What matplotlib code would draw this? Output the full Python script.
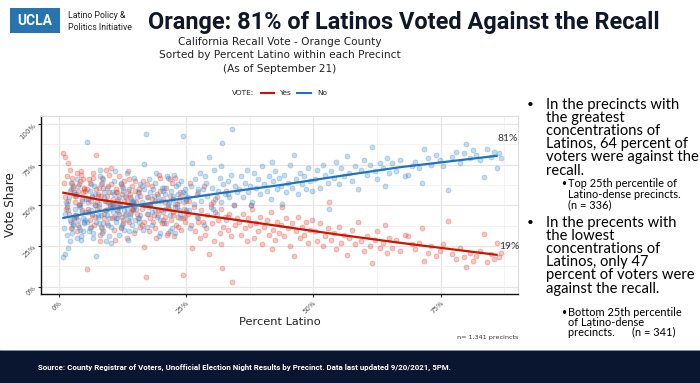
import matplotlib
matplotlib.use("Agg")
from matplotlib import pyplot as plt
from matplotlib import font_manager
from matplotlib.patches import Rectangle
from matplotlib.ticker import MultipleLocator, FuncFormatter

# percent Latino in precinct, and "No" share (Yes share = 1 - No)
pct_latino = [
    0.008, 0.012, 0.019, 0.010, 0.015, 0.022, 0.025, 0.018, 0.030, 0.028, 0.033, 0.035, 0.040, 0.038, 0.042, 0.045, 0.048, 0.020, 0.027, 0.031,
    0.036, 0.044, 0.049, 0.013, 0.024, 0.039, 0.046, 0.017, 0.029, 0.034, 0.041, 0.047, 0.023, 0.037, 0.043, 0.016, 0.026, 0.032, 0.050, 0.021,
    0.052, 0.055, 0.058, 0.061, 0.063, 0.066, 0.068, 0.071, 0.073, 0.075, 0.078, 0.080, 0.083, 0.085, 0.088, 0.090, 0.093, 0.095, 0.098, 0.100,
    0.102, 0.105, 0.107, 0.110, 0.112, 0.115, 0.118, 0.120, 0.123, 0.125, 0.128, 0.130, 0.133, 0.135, 0.138, 0.140, 0.143, 0.145, 0.148, 0.150,
    0.054, 0.059, 0.064, 0.069, 0.074, 0.079, 0.084, 0.089, 0.094, 0.099, 0.104, 0.109, 0.114, 0.119, 0.124, 0.129, 0.134, 0.139, 0.144, 0.149,
    0.057, 0.062, 0.067, 0.072, 0.077, 0.082, 0.087, 0.092, 0.097, 0.103, 0.108, 0.113, 0.117, 0.122, 0.127, 0.132, 0.137, 0.142, 0.147, 0.056,
    0.065, 0.076, 0.086, 0.096, 0.106, 0.116, 0.126, 0.136, 0.146, 0.081,
    0.152, 0.155, 0.158, 0.160, 0.163, 0.165, 0.168, 0.171, 0.173, 0.175, 0.178, 0.180, 0.183, 0.185, 0.188, 0.190, 0.193, 0.195, 0.198, 0.200,
    0.203, 0.205, 0.208, 0.210, 0.213, 0.215, 0.218, 0.220, 0.223, 0.225, 0.228, 0.230, 0.233, 0.235, 0.238, 0.240, 0.243, 0.245, 0.248, 0.250,
    0.154, 0.159, 0.164, 0.169, 0.174, 0.179, 0.184, 0.189, 0.194, 0.199, 0.204, 0.209, 0.214, 0.219, 0.224, 0.229, 0.234, 0.239, 0.244, 0.249,
    0.157, 0.167, 0.177, 0.187, 0.197, 0.207, 0.217, 0.227, 0.237, 0.247,
    0.253, 0.256, 0.259, 0.262, 0.265, 0.268, 0.271, 0.274, 0.277, 0.280, 0.283, 0.286, 0.289, 0.292, 0.295, 0.298, 0.301, 0.304, 0.307, 0.310,
    0.313, 0.316, 0.319, 0.320, 0.323, 0.326, 0.329, 0.332, 0.335, 0.338, 0.341, 0.344, 0.347, 0.350, 0.258, 0.273, 0.288, 0.303, 0.318, 0.333,
    0.353, 0.357, 0.361, 0.365, 0.369, 0.372, 0.376, 0.380, 0.384, 0.388, 0.392, 0.396, 0.400, 0.404, 0.408, 0.412, 0.416, 0.420, 0.424, 0.428,
    0.432, 0.436, 0.438, 0.442, 0.446, 0.450, 0.454, 0.458, 0.462, 0.466, 0.470, 0.474, 0.478, 0.482, 0.486, 0.490, 0.494, 0.498, 0.378, 0.418,
    0.503, 0.508, 0.513, 0.518, 0.523, 0.528, 0.530, 0.535, 0.540, 0.545, 0.550, 0.555, 0.560, 0.566, 0.571, 0.576, 0.582, 0.588, 0.594, 0.600,
    0.606, 0.611, 0.616, 0.621, 0.626, 0.631, 0.636, 0.641, 0.645, 0.649,
    0.655, 0.662, 0.670, 0.680, 0.685, 0.693, 0.700, 0.707, 0.713, 0.718, 0.725, 0.732, 0.740, 0.748, 0.755, 0.765, 0.772, 0.780, 0.788, 0.795,
    0.800, 0.807, 0.813, 0.820, 0.827, 0.836, 0.842, 0.848, 0.855, 0.860, 0.864, 0.868,
]
no_share = [
    0.18, 0.20, 0.24, 0.36, 0.52, 0.41, 0.33, 0.47, 0.58, 0.39, 0.44, 0.30, 0.50, 0.62, 0.35, 0.46, 0.42, 0.55, 0.38, 0.48,
    0.66, 0.29, 0.40, 0.45, 0.60, 0.37, 0.53, 0.32, 0.43, 0.57, 0.49, 0.34, 0.64, 0.41, 0.31, 0.51, 0.36, 0.44, 0.39, 0.28,
    0.41, 0.89, 0.52, 0.36, 0.63, 0.45, 0.30, 0.57, 0.19, 0.48, 0.39, 0.68, 0.44, 0.33, 0.55, 0.47, 0.28, 0.61, 0.42, 0.50,
    0.37, 0.58, 0.46, 0.71, 0.40, 0.53, 0.32, 0.49, 0.64, 0.43, 0.35, 0.56, 0.48, 0.29, 0.60, 0.45, 0.38, 0.52, 0.67, 0.41,
    0.54, 0.34, 0.47, 0.62, 0.40, 0.51, 0.36, 0.58, 0.44, 0.31, 0.49, 0.65, 0.42, 0.55, 0.38, 0.47, 0.70, 0.43, 0.52, 0.35,
    0.46, 0.59, 0.33, 0.50, 0.44, 0.63, 0.39, 0.53, 0.48, 0.27, 0.57, 0.42, 0.51, 0.37, 0.61, 0.45, 0.34, 0.54, 0.49, 0.40,
    0.56, 0.43, 0.66, 0.38, 0.50, 0.46, 0.59, 0.41, 0.53, 0.72,
    0.48, 0.58, 0.40, 0.63, 0.52, 0.35, 0.755, 0.94, 0.55, 0.45, 0.66, 0.50, 0.38, 0.60, 0.47, 0.70, 0.43, 0.56, 0.33, 0.53,
    0.61, 0.46, 0.57, 0.39, 0.68, 0.51, 0.44, 0.59, 0.36, 0.54, 0.33, 0.62, 0.49, 0.57, 0.42, 0.65, 0.926, 0.52, 0.60, 0.47,
    0.55, 0.44, 0.62, 0.50, 0.37, 0.58, 0.46, 0.64, 0.53, 0.41, 0.59, 0.48, 0.67, 0.34, 0.56, 0.51, 0.63, 0.45, 0.58, 0.54,
    0.42, 0.60, 0.49, 0.56, 0.31, 0.61, 0.52, 0.69, 0.47, 0.57,
    0.55, 0.47, 0.62, 0.763, 0.51, 0.66, 0.43, 0.58, 0.70, 0.53, 0.60, 0.38, 0.64, 0.56, 0.80, 0.49, 0.61, 0.72, 0.54, 0.45,
    0.59, 0.67, 0.52, 0.885, 0.63, 0.57, 0.41, 0.65, 0.55, 0.69, 0.97, 0.50, 0.62, 0.58, 0.36, 0.60, 0.68, 0.48, 0.74, 0.57,
    0.60, 0.68, 0.55, 0.64, 0.72, 0.58, 0.62, 0.52, 0.70, 0.61, 0.66, 0.57, 0.74, 0.63, 0.59, 0.68, 0.54, 0.65, 0.71, 0.60,
    0.67, 0.62, 0.51, 0.69, 0.58, 0.64, 0.75, 0.61, 0.81, 0.66, 0.57, 0.70, 0.63, 0.68, 0.60, 0.73, 0.65, 0.59, 0.50, 0.77,
    0.66, 0.72, 0.61, 0.75, 0.69, 0.64, 0.48, 0.71, 0.67, 0.77, 0.63, 0.73, 0.68, 0.805, 0.70, 0.65, 0.74, 0.60, 0.72, 0.78,
    0.69, 0.75, 0.857, 0.71, 0.66, 0.76, 0.73, 0.62, 0.79, 0.70,
    0.76, 0.71, 0.78, 0.68, 0.69, 0.74, 0.77, 0.73, 0.636, 0.845, 0.79, 0.75, 0.81, 0.78, 0.74, 0.595, 0.80, 0.83, 0.76, 0.82,
    0.877, 0.79, 0.84, 0.81, 0.78, 0.677, 0.85, 0.80, 0.83, 0.732, 0.82, 0.79,
]
yes_share = [1 - v for v in no_share]

# smoothed trend lines
trend_x = [0.009, 0.08, 0.15, 0.25, 0.35, 0.435, 0.55, 0.67, 0.86]
trend_yes = [0.578, 0.535, 0.503, 0.455, 0.41, 0.372, 0.32, 0.27, 0.196]
trend_no = [0.423, 0.465, 0.50, 0.545, 0.59, 0.625, 0.68, 0.735, 0.805]

title = "Orange: 81% of Latinos Voted Against the Recall"
subtitle = ["California Recall Vote - Orange County",
            "Sorted by Percent Latino within each Precinct",
            "(As of September 21)"]
bullet1 = ["In the precincts with", "the greatest", "concentrations of",
           "Latinos, 64 percent of", "voters were against the", "recall."]
sub1 = ["Top 25th percentile of", "Latino-dense precincts.", "(n = 336)"]
bullet2 = ["In the precents with", "the lowest", "concentrations of",
           "Latinos, only 47", "percent of voters were", "against the recall."]
sub2 = ["Bottom 25th percentile", "of Latino-dense", "precincts.      (n = 341)"]
source = "Source: County Registrar of Voters, Unofficial Election Night Results by Precinct. Data last updated 9/20/2021, 5PM."

RED_PT, RED_LN = "#e0402f", "#cc1500"
BLUE_PT, BLUE_LN = "#3d86c6", "#1f74c0"

names = {f.name for f in font_manager.fontManager.ttflist}
NARROW = "Liberation Sans Narrow" if "Liberation Sans Narrow" in names else "Roboto"
BODY = "Lato"

W, H = 700, 383
fig = plt.figure(figsize=(W / 100, H / 100), dpi=100)
fig.patch.set_facecolor("white")


def fx(x):
    return x / W


def fy(y):
    return 1 - y / H


renderer = fig.canvas.get_renderer()


def fit(t, width_px):
    # scale font so the text spans the given width
    bb = t.get_window_extent(renderer=renderer)
    t.set_fontsize(t.get_fontsize() * width_px / bb.width)
    return t.get_fontsize()


# header
fig.patches.append(Rectangle((fx(10), fy(33)), 50 / W, 25 / H, transform=fig.transFigure,
                             facecolor="#2774ae", edgecolor="none"))
fig.text(fx(35), fy(21), "UCLA", color="white", fontsize=10, fontweight="bold",
         family="Roboto", ha="center", va="center")
fig.text(fx(68), fy(16), "Latino Policy &", fontsize=6.3, family="Roboto", ha="left", va="center", color="#222")
fig.text(fx(68), fy(27), "Politics Initiative", fontsize=6.3, family="Roboto", ha="left", va="center", color="#222")
t = fig.text(fx(148), fy(22), title, fontsize=20, fontweight="bold", family=NARROW,
             ha="left", va="center", color="#101828")
fit(t, 510)

for i, line in enumerate(subtitle):
    fig.text(fx(280), fy(42 + 13.5 * i), line, fontsize=7.6, family="DejaVu Sans",
             ha="center", va="center", color="#222")

# legend
fig.text(fx(232), fy(93), "VOTE:", fontsize=5.3, family="DejaVu Sans", ha="left", va="center", color="#222")
fig.lines.append(plt.Line2D([fx(261), fx(274)], [fy(93), fy(93)], transform=fig.transFigure,
                            color=RED_LN, lw=1.5))
fig.text(fx(279), fy(93), "Yes", fontsize=5.3, family="DejaVu Sans", ha="left", va="center", color="#222")
fig.lines.append(plt.Line2D([fx(297), fx(311)], [fy(93), fy(93)], transform=fig.transFigure,
                            color=BLUE_LN, lw=1.5))
fig.text(fx(317), fy(93), "No", fontsize=5.3, family="DejaVu Sans", ha="left", va="center", color="#222")

# scatter panel
ax = fig.add_axes([fx(41), fy(294), (518 - 41) / W, (294 - 116) / H])
ax.scatter(pct_latino, yes_share, s=13, color=RED_PT, alpha=0.3, edgecolors=RED_PT, linewidths=0.6, zorder=2)
ax.scatter(pct_latino, no_share, s=13, color=BLUE_PT, alpha=0.3, edgecolors=BLUE_PT, linewidths=0.6, zorder=2)
ax.plot(trend_x, trend_yes, color=RED_LN, lw=1.6, zorder=3)
ax.plot(trend_x, trend_no, color=BLUE_LN, lw=1.6, zorder=3)
ax.text(0.881, 0.914, "81%", fontsize=7.5, family=BODY, color="#333", ha="center", va="center")
ax.text(0.885, 0.25, "19%", fontsize=7.5, family=BODY, color="#333", ha="center", va="center")

ax.set_xlim(-0.035, 0.902)
ax.set_ylim(-0.045, 1.05)
pct = FuncFormatter(lambda v, p: f"{v * 100:.0f}%")
ax.xaxis.set_major_locator(MultipleLocator(0.25))
ax.xaxis.set_minor_locator(MultipleLocator(0.125))
ax.yaxis.set_major_locator(MultipleLocator(0.25))
ax.yaxis.set_minor_locator(MultipleLocator(0.125))
ax.xaxis.set_major_formatter(pct)
ax.yaxis.set_major_formatter(pct)
ax.grid(which="major", color="#e6e6e6", lw=0.9, zorder=0)
ax.grid(which="minor", color="#f1f1f1", lw=0.6, zorder=0)
ax.set_axisbelow(True)
ax.tick_params(which="both", length=0, pad=2)
ax.tick_params(which="major", length=2, color="#333")
for lab in ax.get_xticklabels():
    lab.set(rotation=45, ha="right", va="top", rotation_mode="anchor", fontsize=5, color="#555")
for lab in ax.get_yticklabels():
    lab.set(rotation=45, ha="right", va="center", rotation_mode="anchor", fontsize=5, color="#555")
for side in ["left", "bottom"]:
    ax.spines[side].set(color="#111", lw=1)
for side in ["top", "right"]:
    ax.spines[side].set(color="#dddddd", lw=0.8)

fig.text(fx(11), fy(205), "Vote Share", rotation=90, fontsize=8.6, family="DejaVu Sans",
         ha="center", va="center", color="#222")
fig.text(fx(280), fy(322), "Percent Latino", fontsize=8.2, family="DejaVu Sans",
         ha="center", va="center", color="#222")
fig.text(fx(518), fy(337), "n= 1,341 precincts", fontsize=4.6, family="DejaVu Sans",
         ha="right", va="center", color="#333")

# right-hand notes
probe = fig.text(fx(546), fy(105), bullet1[4], fontsize=11, family=BODY)
fs_main = fit(probe, 151)
probe.remove()
probe = fig.text(fx(568), fy(186), sub1[1], fontsize=8, family=BODY)
fs_sub = fit(probe, 121) * 0.93
probe.remove()

for start, lines in [(105, bullet1), (223, bullet2)]:
    fig.text(fx(527), fy(start), "•", fontsize=fs_main * 0.8, family=BODY, ha="left", va="center")
    for i, line in enumerate(lines):
        fig.text(fx(546), fy(start + 13.1 * i), line, fontsize=fs_main, family=BODY,
                 ha="left", va="center", linespacing=1.0)

for start, step, lines in [(184, 10.3, sub1), (312, 10.4, sub2)]:
    fig.text(fx(561), fy(start), "•", fontsize=fs_sub * 0.8, family=BODY, ha="left", va="center")
    for i, line in enumerate(lines):
        fig.text(fx(568), fy(start + step * i), line, fontsize=fs_sub,
                 family=BODY, ha="left", va="center")

# footer banner
fig.patches.append(Rectangle((0, 0), 1, 33 / H, transform=fig.transFigure,
                             facecolor="#0a1630", edgecolor="none"))
fig.lines.append(plt.Line2D([0, 1], [fy(350), fy(350)], transform=fig.transFigure, color="#9aa3b5", lw=0.6))
t = fig.text(fx(38), fy(367), source, fontsize=6, fontweight="bold", family=NARROW,
             color="white", ha="left", va="center")
fit(t, 418)

fig.savefig("out.png", dpi=100, facecolor="white")
